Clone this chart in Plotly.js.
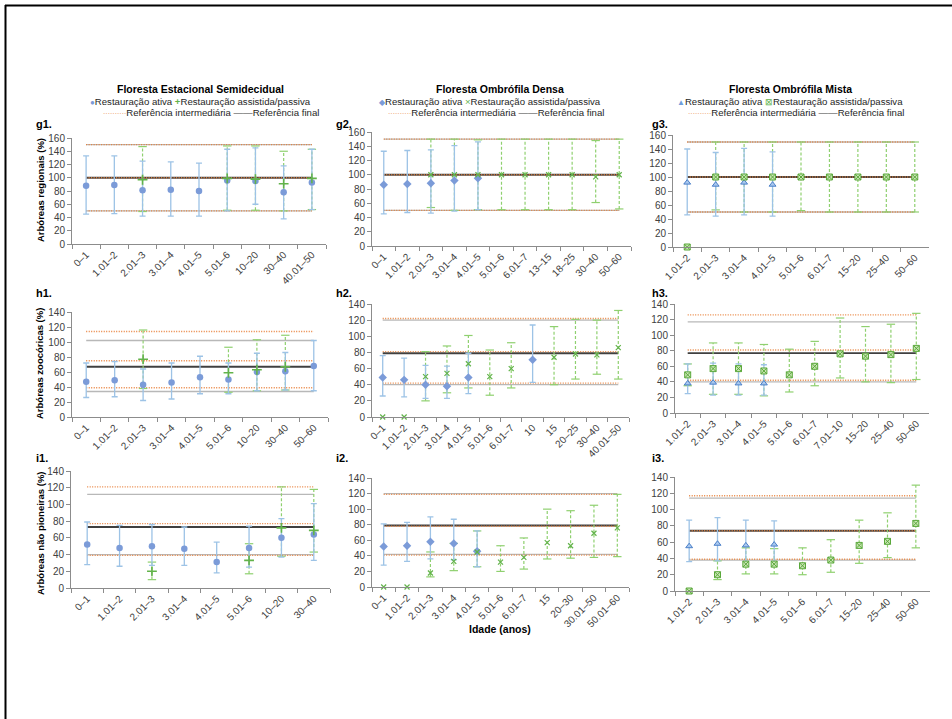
<!DOCTYPE html>
<html><head><meta charset="utf-8">
<script src="https://cdn.plot.ly/plotly-3.0.1.min.js"></script>
<style>html,body{margin:0;padding:0;background:#fff}#c{width:952px;height:719px}</style>
</head><body><div id="c"></div>
<script>
// ---------- DATA ----------
// Row g: Arbóreas regionais (%)
const cats_g1 = ['0–1','1.01–2','2.01–3','3.01–4','4.01–5','5.01–6','10–20','30–40','40.01–50'];
const ativa_g1 = [88, 89, 81, 82, 80, 96, 95, 78, 93];
const ativaLo_g1 = [45, 46, 42, 42, 42, 50, 60, 38, 52];
const ativaHi_g1 = [133, 133, 125, 124, 122, 143, 145, 118, 143];
const passiva_g1 = [null, null, 97, null, null, 99, 98, 91, 99];
const passivaLo_g1 = [null, null, 49, null, null, 51, 51, 50, 52];
const passivaHi_g1 = [null, null, 147, null, null, 148, 148, 140, 143];
const refInt_g1 = [50, 100, 150];
const refFin_g1 = [50, 100, 150];

const cats_g2 = ['0–1','1.01–2','2.01–3','3.01–4','4.01–5','5.01–6','6.01–7','13–15','18–25','30–40','50–60'];
const ativa_g2 = [86, 87, 88, 92, 95, null, null, null, null, null, null];
const ativaLo_g2 = [45, 47, 46, 49, 51, null, null, null, null, null, null];
const ativaHi_g2 = [133, 134, 135, 141, 146, null, null, null, null, null, null];
const passiva_g2 = [null, null, 100, 100, 100, 100, 100, 100, 100, 97, 100];
const passivaLo_g2 = [null, null, 54, 50, 51, 51, 51, 51, 51, 61, 52];
const passivaHi_g2 = [null, null, 150, 150, 149, 150, 150, 150, 150, 148, 150];
const refInt_g2 = [50, 100, 150];
const refFin_g2 = [50, 100, 150];

const cats_g3 = ['1.01–2','2.01–3','3.01–4','4.01–5','5.01–6','6.01–7','15–20','25–40','50–60'];
const ativa_g3 = [92, 89, 92, 89, null, null, null, null, null];
const ativaLo_g3 = [46, 44, 46, 44, null, null, null, null, null];
const ativaHi_g3 = [140, 135, 141, 136, null, null, null, null, null];
const passiva_g3 = [0, 100, 100, 100, 100, 100, 100, 100, 100];
const passivaLo_g3 = [null, 53, 50, 50, 52, 50, 50, 50, 50];
const passivaHi_g3 = [null, 150, 150, 150, 150, 150, 150, 150, 150];
const refInt_g3 = [50, 100, 150];
const refFin_g3 = [50, 100, 150];

// Row h: Arbóreas zoocóricas (%)
const cats_h1 = ['0–1','1.01–2','2.01–3','3.01–4','4.01–5','5.01–6','10–20','30–40','50–60'];
const ativa_h1 = [47, 49, 43, 46, 53, 50, 60, 61, 68];
const ativaLo_h1 = [26, 27, 22, 24, 31, 31, 35, 36, 35];
const ativaHi_h1 = [72, 74, 64, 72, 81, 72, 85, 86, 102];
const passiva_h1 = [null, null, 77, null, null, 59, 63, 67, null];
const passivaLo_h1 = [null, null, 38, null, null, 33, 35, 36, null];
const passivaHi_h1 = [null, null, 116, null, null, 93, 103, 109, null];
const refInt_h1 = [39, 75, 114];
const refFin_h1 = [34, 67, 102];

const cats_h2 = ['0–1','1.01–2','2.01–3','3.01–4','4.01–5','5.01–6','6.01–7','10','15','20–25','30–40','40.01–50'];
const ativa_h2 = [49, 46, 40, 38, 49, null, null, 71, null, null, null, null];
const ativaLo_h2 = [26, 25, 23, 23, 29, null, null, 43, null, null, null, null];
const ativaHi_h2 = [76, 73, 64, 63, 79, null, null, 114, null, null, null, null];
const passiva_h2 = [0, 0, 50, 54, 66, 50, 60, null, 74, 78, 77, 86];
const passivaLo_h2 = [null, null, 20, 30, 36, 27, 36, null, 40, 47, 53, 47];
const passivaHi_h2 = [null, null, 81, 88, 101, 83, 92, null, 112, 121, 120, 132];
const refInt_h2 = [42, 81, 122];
const refFin_h2 = [40, 79, 120];

const cats_h3 = ['1.01–2','2.01–3','3.01–4','4.01–5','5.01–6','6.01–7','7.01–10','15–20','25–40','50–60'];
const ativa_h3 = [38, 39, 38, 38, null, null, null, null, null, null];
const ativaLo_h3 = [25, 23, 23, 23, null, null, null, null, null, null];
const ativaHi_h3 = [63, 64, 63, 62, null, null, null, null, null, null];
const passiva_h3 = [49, 57, 57, 54, 49, 60, 76, 73, 75, 83];
const passivaLo_h3 = [35, 24, 24, 22, 27, 35, 45, 40, 39, 43];
const passivaHi_h3 = [63, 90, 90, 88, 82, 92, 122, 111, 114, 128];
const refInt_h3 = [42, 81, 126];
const refFin_h3 = [40, 77, 117];

// Row i: Arbóreas não pioneiras (%)
const cats_i1 = ['0–1','1.01–2','2.01–3','3.01–4','4.01–5','5.01–6','10–20','30–40'];
const ativa_i1 = [52, 48, 50, 47, 31, 48, 60, 64];
const ativaLo_i1 = [28, 26, 27, 27, 18, 25, 37, 33];
const ativaHi_i1 = [79, 75, 76, 73, 55, 74, 83, 101];
const passiva_i1 = [null, null, 20, null, null, 33, 72, 69];
const passivaLo_i1 = [null, null, 10, null, null, 17, 38, 43];
const passivaHi_i1 = [null, null, 31, null, null, 53, 121, 118];
const refInt_i1 = [39, 77, 121];
const refFin_i1 = [40, 73, 112];

const cats_i2 = ['0–1','1.01–2','2.01–3','3.01–4','4.01–5','5.01–6','6.01–7','15','20–30','30.01–50','50.01–60'];
const ativa_i2 = [52, 53, 58, 56, 46, null, null, null, null, null, null];
const ativaLo_i2 = [28, 33, 36, 35, 26, null, null, null, null, null, null];
const ativaHi_i2 = [81, 83, 90, 87, 72, null, null, null, null, null, null];
const passiva_i2 = [0, 0, 18, 33, 45, 32, 38, 57, 53, 69, 76];
const passivaLo_i2 = [null, null, 13, 21, 26, 20, 23, 36, 37, 38, 39];
const passivaHi_i2 = [null, null, 45, 56, 72, 53, 63, 100, 98, 105, 119];
const refInt_i2 = [41, 78, 119];
const refFin_i2 = [42, 79, 120];

const cats_i3 = ['1.01–2','2.01–3','3.01–4','4.01–5','5.01–6','6.01–7','15–20','25–40','50–60'];
const ativa_i3 = [55, 58, 56, 57, null, null, null, null, null];
const ativaLo_i3 = [36, 37, 33, 33, null, null, null, null, null];
const ativaHi_i3 = [87, 90, 87, 86, null, null, null, null, null];
const passiva_i3 = [0, 20, 33, 33, 31, 38, 56, 61, 83];
const passivaLo_i3 = [null, 14, 21, 21, 20, 23, 34, 41, 53];
const passivaHi_i3 = [null, 37, 53, 52, 53, 63, 87, 96, 130];
const refInt_i3 = [39, 74, 117];
const refFin_i3 = [38, 74, 114];

const colTitles = ['Floresta Estacional Semidecidual', 'Floresta Ombrófila Densa', 'Floresta Ombrófila Mista'];
const rowTitles = ['Arbóreas regionais (%)', 'Arbóreas zoocóricas (%)', 'Arbóreas não pioneiras (%)'];
const panelLabels = ['g1.', 'g2.', 'g3.', 'h1.', 'h2.', 'h3.', 'i1.', 'i2.', 'i3.'];
const seriesNames = ['Restauração ativa', 'Restauração assistida/passiva', 'Referência intermediária', 'Referência final'];
const xTitle = 'Idade (anos)';
const yMax = [160, 140, 140];

// ---------- LAYOUT HELPERS ----------
const W = 952, H = 719;
const FONT = 'Liberation Sans, Arial, sans-serif';
// pixel boxes per panel: [xLeft, xRight, yTop, yBottom]
const boxes = [
  [72, 326, 138, 244], [372, 631, 132, 246], [673, 929, 135, 247],
  [72, 328, 312, 417], [372, 629, 304, 417], [675, 929, 304, 413],
  [71, 330, 471, 588], [372, 629, 478, 587], [675, 930, 477, 591]
];
const panels = [
  [cats_g1, ativa_g1, ativaLo_g1, ativaHi_g1, passiva_g1, passivaLo_g1, passivaHi_g1, refInt_g1, refFin_g1],
  [cats_g2, ativa_g2, ativaLo_g2, ativaHi_g2, passiva_g2, passivaLo_g2, passivaHi_g2, refInt_g2, refFin_g2],
  [cats_g3, ativa_g3, ativaLo_g3, ativaHi_g3, passiva_g3, passivaLo_g3, passivaHi_g3, refInt_g3, refFin_g3],
  [cats_h1, ativa_h1, ativaLo_h1, ativaHi_h1, passiva_h1, passivaLo_h1, passivaHi_h1, refInt_h1, refFin_h1],
  [cats_h2, ativa_h2, ativaLo_h2, ativaHi_h2, passiva_h2, passivaLo_h2, passivaHi_h2, refInt_h2, refFin_h2],
  [cats_h3, ativa_h3, ativaLo_h3, ativaHi_h3, passiva_h3, passivaLo_h3, passivaHi_h3, refInt_h3, refFin_h3],
  [cats_i1, ativa_i1, ativaLo_i1, ativaHi_i1, passiva_i1, passivaLo_i1, passivaHi_i1, refInt_i1, refFin_i1],
  [cats_i2, ativa_i2, ativaLo_i2, ativaHi_i2, passiva_i2, passivaLo_i2, passivaHi_i2, refInt_i2, refFin_i2],
  [cats_i3, ativa_i3, ativaLo_i3, ativaHi_i3, passiva_i3, passivaLo_i3, passivaHi_i3, refInt_i3, refFin_i3]
];

const BLUE = '#7b9bd8', BLUE_ERR = '#9dc3e6', GREEN = '#62b34a', GREEN_ERR = '#8fd06f';
const ORANGE = '#e8803a', DARK = '#404040', GRAY = '#b8b8b8';
const blueMarkers = [
  {symbol: 'circle', size: 6.5, color: BLUE},
  {symbol: 'diamond', size: 6.5, color: BLUE},
  {symbol: 'triangle-up', size: 6, color: '#a9c8ee', line: {color: '#4a7fc8', width: 1}}
];
const greenMarkers = [
  {symbol: 'cross-thin-open', size: 7, color: GREEN, line: {color: GREEN, width: 1.6}},
  {symbol: 'x-thin-open', size: 5, color: GREEN, line: {color: GREEN, width: 1.2}},
  {symbol: 'square-x', size: 6, color: '#c9e6b4', line: {color: '#5aa83b', width: 1}}
];
// legend glyphs (legend drawn as text, one block per column, as in the reference)
const blueGlyph = ['<span style="font-size:8px">●</span>', '<span style="font-size:8px">◆</span>', '<span style="font-size:8px;color:#6f9fdc">▲</span>'];
const greenGlyph = ['<b>+</b>', '×', '<span style="font-size:9px">⊠</span>'];

const traces = [];
const layout = {
  width: W, height: H, margin: {l: 0, r: 0, t: 0, b: 0}, showlegend: false,
  paper_bgcolor: '#fff', plot_bgcolor: 'rgba(0,0,0,0)',
  font: {family: FONT, size: 10, color: '#404040'},
  annotations: [], shapes: []
};

panels.forEach((p, k) => {
  const [cats, a, aLo, aHi, ps, pLo, pHi, rInt, rFin] = p;
  const row = Math.floor(k / 3), col = k % 3;
  const n = k + 1;
  const xa = n === 1 ? 'x' : 'x' + n, ya = n === 1 ? 'y' : 'y' + n;
  const b = boxes[k];
  layout[n === 1 ? 'xaxis' : 'xaxis' + n] = {
    domain: [b[0] / W, b[1] / W], anchor: ya, type: 'category',
    categoryorder: 'array', categoryarray: cats, range: [-0.5, cats.length - 0.5],
    showline: true, linecolor: '#8c8c8c', linewidth: 1, ticks: 'outside', ticklen: 4,
    tickcolor: '#8c8c8c', tickson: 'boundaries', tickangle: -45, showgrid: false, zeroline: false,
    tickfont: {family: FONT, size: 10, color: '#404040'}, fixedrange: true
  };
  layout[n === 1 ? 'yaxis' : 'yaxis' + n] = {
    domain: [1 - b[3] / H, 1 - b[2] / H], anchor: xa, range: [0, yMax[row]],
    tickmode: 'linear', tick0: 0, dtick: 20, showline: true, linecolor: '#8c8c8c', linewidth: 1,
    ticks: 'outside', ticklen: 4, tickcolor: '#8c8c8c', showgrid: false, zeroline: false,
    tickfont: {family: FONT, size: 10, color: '#404040'}, fixedrange: true
  };
  // reference final: gray ±SD lines and dark mean line
  [0, 2].forEach(j => {
    traces.push({x: cats, y: cats.map(() => rFin[j]), xaxis: xa, yaxis: ya, mode: 'lines',
      line: {color: GRAY, width: 1.3}, name: seriesNames[3], hoverinfo: 'skip'});
  });
  traces.push({x: cats, y: cats.map(() => rFin[1]), xaxis: xa, yaxis: ya, mode: 'lines',
    line: {color: DARK, width: 1.8}, name: seriesNames[3], hoverinfo: 'skip'});
  // reference intermediária: dotted orange
  [0, 1, 2].forEach(j => {
    traces.push({x: cats, y: cats.map(() => rInt[j]), xaxis: xa, yaxis: ya, mode: 'lines',
      line: {color: ORANGE, width: 1.4, dash: '1px,1.5px'}, name: seriesNames[2], hoverinfo: 'skip'});
  });
  // passive error segments (dashed)
  const ex = [], ey = [];
  cats.forEach((c, i) => {
    if (pLo[i] != null && pHi[i] != null) { ex.push(c, c, null); ey.push(pLo[i], pHi[i], null); }
  });
  traces.push({x: ex, y: ey, xaxis: xa, yaxis: ya, mode: 'lines+markers',
    line: {color: GREEN_ERR, width: 1.2, dash: '3px,2px'},
    marker: {symbol: 'line-ew-open', size: 6, line: {color: GREEN_ERR, width: 1.2}},
    name: seriesNames[1], hoverinfo: 'skip', cliponaxis: false});
  // active with error bars
  traces.push({x: cats, y: a, xaxis: xa, yaxis: ya, mode: 'markers', name: seriesNames[0],
    marker: blueMarkers[col], cliponaxis: false,
    error_y: {type: 'data', symmetric: false,
      array: a.map((v, i) => v == null || aHi[i] == null ? null : aHi[i] - v),
      arrayminus: a.map((v, i) => v == null || aLo[i] == null ? null : v - aLo[i]),
      color: BLUE_ERR, thickness: 1.3, width: 3}});
  // passive markers
  traces.push({x: cats, y: ps, xaxis: xa, yaxis: ya, mode: 'markers', name: seriesNames[1],
    marker: greenMarkers[col], cliponaxis: false});
  // panel label
  layout.annotations.push({text: '<b>' + panelLabels[k] + '</b>', xref: 'paper', yref: 'paper',
    x: [34, 334, 650][col] / W, y: 1 - [124, 293, 458][row] / H, xanchor: 'left', yanchor: 'middle',
    showarrow: false, font: {family: FONT, size: 11, color: '#000'}});
});

// legends (text blocks)
const legRow1X = [200, 490, 790], legRow2X = [211, 496, 796];
for (let c = 0; c < 3; c++) {
  layout.annotations.push({xref: 'paper', yref: 'paper', x: legRow1X[c] / W, y: 1 - 102 / H,
    xanchor: 'center', yanchor: 'middle', showarrow: false,
    font: {family: FONT, size: 9.6, color: '#262626'},
    text: '<span style="color:' + BLUE + '">' + blueGlyph[c] + '</span>' + seriesNames[0] + ' ' +
          '<span style="color:' + GREEN + '">' + greenGlyph[c] + '</span>' + seriesNames[1]});
  layout.annotations.push({xref: 'paper', yref: 'paper', x: legRow2X[c] / W, y: 1 - 113 / H,
    xanchor: 'center', yanchor: 'middle', showarrow: false,
    font: {family: FONT, size: 9.6, color: '#262626'},
    text: '<span style="color:' + ORANGE + ';font-size:7px">··········</span>' + seriesNames[2] + ' ' +
          '<span style="color:' + DARK + '">——</span>' + seriesNames[3]});
}

// column titles
colTitles.forEach((t, c) => {
  layout.annotations.push({text: '<b>' + t + '</b>', xref: 'paper', yref: 'paper',
    x: [200, 500, 790][c] / W, y: 1 - 89 / H, xanchor: 'center', yanchor: 'middle', showarrow: false,
    font: {family: FONT, size: 10.5, color: '#000'}});
});
// row titles
rowTitles.forEach((t, r) => {
  layout.annotations.push({text: '<b>' + t + '</b>', xref: 'paper', yref: 'paper',
    x: 40 / W, y: 1 - [190, 364, 533][r] / H, xanchor: 'center', yanchor: 'middle', showarrow: false,
    textangle: -90, font: {family: FONT, size: 9.5, color: '#000'}});
});
layout.annotations.push({text: '<b>' + xTitle + '</b>', xref: 'paper', yref: 'paper',
  x: 500 / W, y: 1 - 629 / H, xanchor: 'center', yanchor: 'middle', showarrow: false,
  font: {family: FONT, size: 10.5, color: '#000'}});

// frame (top and left)
layout.shapes.push({type: 'line', xref: 'paper', yref: 'paper', x0: 5 / W, x1: 1, y0: 1 - 5.5 / H, y1: 1 - 5.5 / H,
  line: {color: '#000', width: 2}});
layout.shapes.push({type: 'line', xref: 'paper', yref: 'paper', x0: 5.5 / W, x1: 5.5 / W, y0: 0, y1: 1 - 5 / H,
  line: {color: '#000', width: 2}});

Plotly.newPlot('c', traces, layout, {displayModeBar: false, staticPlot: true});
</script></body></html>
